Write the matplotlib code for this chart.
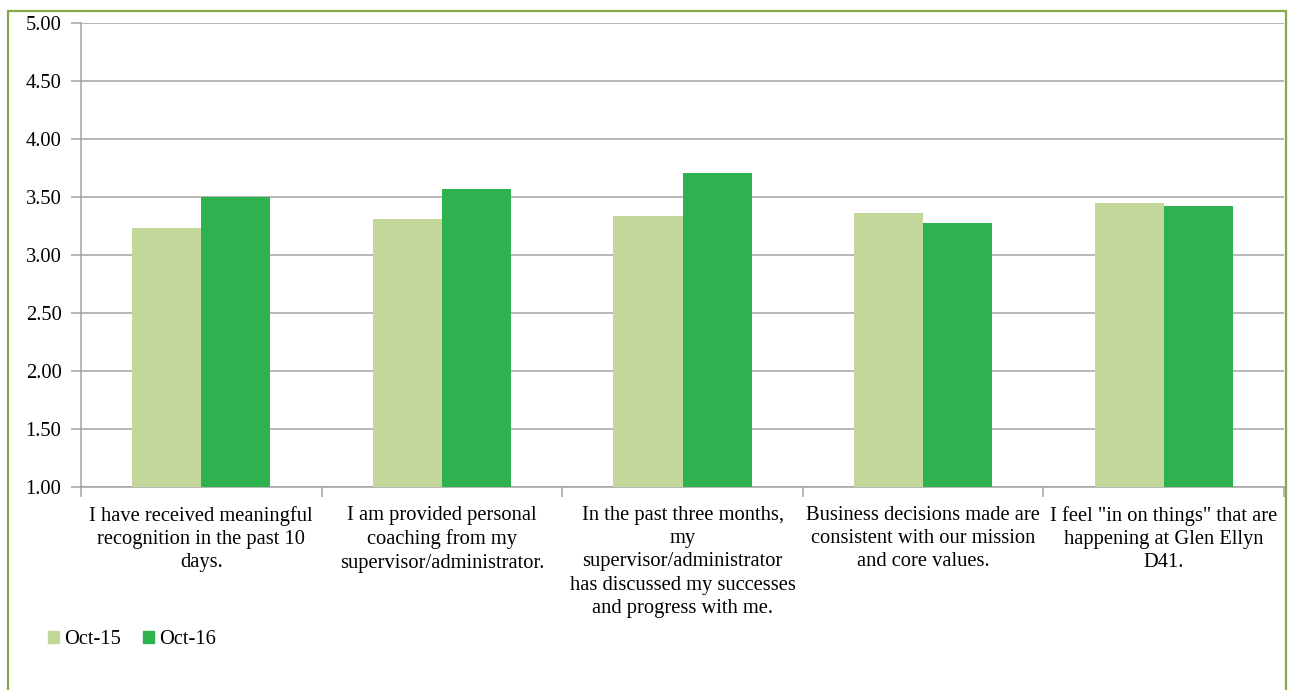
import matplotlib.pyplot as plt
from matplotlib.patches import Rectangle, Patch
import numpy as np

# Survey questions and average scores
categories = [
    "I have received meaningful\nrecognition in the past 10\ndays.",
    "I am provided personal\ncoaching from my\nsupervisor/administrator.",
    "In the past three months,\nmy\nsupervisor/administrator\nhas discussed my successes\nand progress with me.",
    "Business decisions made are\nconsistent with our mission\nand core values.",
    "I feel \"in on things\" that are\nhappening at Glen Ellyn\nD41.",
]
oct15 = [3.23, 3.31, 3.34, 3.36, 3.45]
oct16 = [3.50, 3.57, 3.71, 3.28, 3.42]
series_names = ["Oct-15", "Oct-16"]
yticks = [1.0, 1.5, 2.0, 2.5, 3.0, 3.5, 4.0, 4.5, 5.0]

c15 = "#C4D79B"
c16 = "#2EB14F"
grid_c = "#A3A3A3"

plt.rcParams["font.family"] = ["Liberation Serif", "DejaVu Serif"]
fs = 14.8

W, H = 1291, 690
fig = plt.figure(figsize=(W / 100, H / 100), dpi=100)
ax = fig.add_axes([81 / W, 1 - 487 / H, (1284 - 81) / W, (487 - 23) / H])

x = np.arange(len(categories))
w = 0.287
ax.bar(x - w / 2, oct15, w, bottom=0, color=c15, zorder=3)
ax.bar(x + w / 2, oct16, w, bottom=0, color=c16, zorder=3)

ax.set_ylim(1, 5)
ax.set_xlim(-0.5, len(categories) - 0.5)
ax.set_yticks(yticks)
ax.set_yticklabels([f"{v:.2f}" for v in yticks], fontsize=fs)
ax.yaxis.grid(True, color=grid_c, linewidth=1.1, zorder=0)
ax.set_axisbelow(True)

# category labels centred, tick marks at the boundaries
ax.set_xticks(x)
ax.set_xticklabels(categories, fontsize=fs, linespacing=1.31)
ax.set_xticks(np.arange(-0.5, len(categories)), minor=True)
ax.tick_params(axis="x", which="major", length=0, pad=13.5)
ax.tick_params(axis="x", which="minor", length=7, color=grid_c, width=1.1)
ax.tick_params(axis="y", length=7, color=grid_c, width=1.1, pad=7)

for s in ["top", "right"]:
    ax.spines[s].set_visible(False)
for s in ["left", "bottom"]:
    ax.spines[s].set_color(grid_c)
    ax.spines[s].set_linewidth(1.1)

handles = [Patch(color=c15), Patch(color=c16)]
fig.legend(handles, series_names, loc="center left", bbox_to_anchor=(48 / W, 1 - 640 / H),
           ncol=2, frameon=False, fontsize=fs, handlelength=0.52, handleheight=0.52,
           handletextpad=0.25, columnspacing=1.1, borderpad=0, borderaxespad=0)

# outer chart border
fig.patches.append(Rectangle((8 / W, -0.02), (1286 - 8) / W, 1.02 - 10.7 / H,
                             transform=fig.transFigure, fill=False,
                             edgecolor="#86A84A", linewidth=1.6))

fig.savefig("out.png", dpi=100)
